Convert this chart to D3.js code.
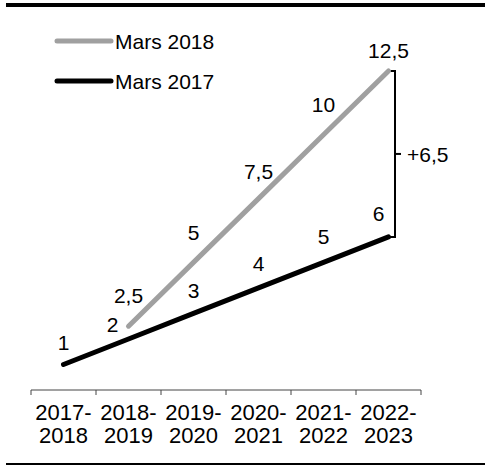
<!DOCTYPE html>
<html>
<head>
<meta charset="utf-8">
<script src="https://cdn.jsdelivr.net/npm/d3@7"></script>
<style>
  html, body { margin: 0; padding: 0; background: #fff; }
  svg { display: block; font-family: "Liberation Sans", Arial, sans-serif; }
</style>
</head>
<body>
<svg id="chart" width="487" height="465"></svg>
<script>
// ---- data ----
const categories = ["2017-2018", "2018-2019", "2019-2020", "2020-2021", "2021-2022", "2022-2023"];
const mars2017 = [1, 2, 3, 4, 5, 6];               // all six periods
const mars2018Cats = ["2018-2019", "2019-2020", "2020-2021", "2021-2022", "2022-2023"];
const mars2018 = [2.5, 5, 7.5, 10, 12.5];
const seriesNames = ["Mars 2018", "Mars 2017"];
const diffLabel = "+6,5";

// ---- layout ----
const W = 487, H = 465;
const svg = d3.select("#chart");
const fmt = v => String(v).replace(".", ",");
const FS = 21, FS_TICK = 22;

const x = d3.scaleBand().domain(categories).range([31, 421]).padding(0);
const cx = c => x(c) + x.bandwidth() / 2;
const y = d3.scaleLinear().domain([0, 12.5]).range([390, 71]);

// frame lines
svg.append("rect").attr("x", 6).attr("y", 3).attr("width", 479).attr("height", 4).attr("fill", "#000");
svg.append("rect").attr("x", 6).attr("y", 463).attr("width", 479).attr("height", 3).attr("fill", "#000");

// x axis
const axisG = svg.append("g");
axisG.append("line")
  .attr("x1", x.range()[0]).attr("x2", x.range()[1])
  .attr("y1", y(0)).attr("y2", y(0))
  .attr("stroke", "#444").attr("stroke-width", 1);
const edges = categories.map(c => x(c)).concat([x(categories[categories.length - 1]) + x.bandwidth()]);
axisG.selectAll("line.tick").data(edges).join("line")
  .attr("class", "tick")
  .attr("x1", d => d).attr("x2", d => d)
  .attr("y1", y(0)).attr("y2", y(0) + 5)
  .attr("stroke", "#444").attr("stroke-width", 1);
const tl = axisG.selectAll("text.tl").data(categories).join("text")
  .attr("class", "tl")
  .attr("text-anchor", "middle")
  .attr("font-size", FS_TICK)
  .attr("fill", "#000");
tl.append("tspan").attr("x", d => cx(d)).attr("y", 420).text(d => d.split("-")[0] + "-");
tl.append("tspan").attr("x", d => cx(d)).attr("y", 443).text(d => d.split("-")[1]);

// lines
const gray = "#a0a0a0";
const line = d3.line().x(d => cx(d[0])).y(d => y(d[1]));
const d17 = categories.map((c, i) => [c, mars2017[i]]);
const d18 = mars2018Cats.map((c, i) => [c, mars2018[i]]);

// bracket
const xb = 395;
const yTop = y(mars2018[mars2018.length - 1]);
const yBot = y(mars2017[mars2017.length - 1]);
const xEnd = cx(categories[categories.length - 1]);
svg.append("path")
  .attr("d", `M${xEnd},${yTop}H${xb}V${yBot}H${xEnd}`)
  .attr("fill", "none").attr("stroke", "#000").attr("stroke-width", 2);
svg.append("line")
  .attr("x1", xb).attr("x2", xb + 6)
  .attr("y1", (yTop + yBot) / 2).attr("y2", (yTop + yBot) / 2)
  .attr("stroke", "#000").attr("stroke-width", 2);
svg.append("text")
  .attr("x", xb + 12).attr("y", (yTop + yBot) / 2 + 8)
  .attr("font-size", FS).attr("fill", "#000")
  .text(diffLabel);

svg.append("path").attr("d", line(d18))
  .attr("fill", "none").attr("stroke", gray).attr("stroke-width", 5).attr("stroke-linecap", "round");
svg.append("path").attr("d", line(d17))
  .attr("fill", "none").attr("stroke", "#000").attr("stroke-width", 5).attr("stroke-linecap", "round");

// data labels
const off17 = [[0, -22], [-16, -15], [0, -23], [0, -25], [0, -26], [-10, -24]];
const off18 = [[0, -31], [0, -30], [0, -28], [0, -31], [0, -21]];
svg.selectAll("text.l17").data(d17).join("text")
  .attr("class", "l17")
  .attr("x", (d, i) => cx(d[0]) + off17[i][0])
  .attr("y", (d, i) => y(d[1]) + off17[i][1] + 8)
  .attr("text-anchor", "middle").attr("font-size", FS).attr("fill", "#000")
  .text(d => fmt(d[1]));
svg.selectAll("text.l18").data(d18).join("text")
  .attr("class", "l18")
  .attr("x", (d, i) => cx(d[0]) + off18[i][0])
  .attr("y", (d, i) => y(d[1]) + off18[i][1] + 8)
  .attr("text-anchor", "middle").attr("font-size", FS).attr("fill", "#000")
  .text(d => fmt(d[1]));

// legend
const legColors = [gray, "#000"];
const leg = svg.selectAll("g.leg").data(seriesNames).join("g")
  .attr("class", "leg")
  .attr("transform", (d, i) => `translate(0,${41 + i * 40})`);
leg.append("line").attr("x1", 57).attr("x2", 111).attr("y1", 0).attr("y2", 0)
  .attr("stroke", (d, i) => legColors[i]).attr("stroke-width", 5).attr("stroke-linecap", "round");
leg.append("text").attr("x", 115).attr("y", 8)
  .attr("font-size", FS).attr("fill", "#000")
  .text(d => d);
</script>
</body>
</html>
